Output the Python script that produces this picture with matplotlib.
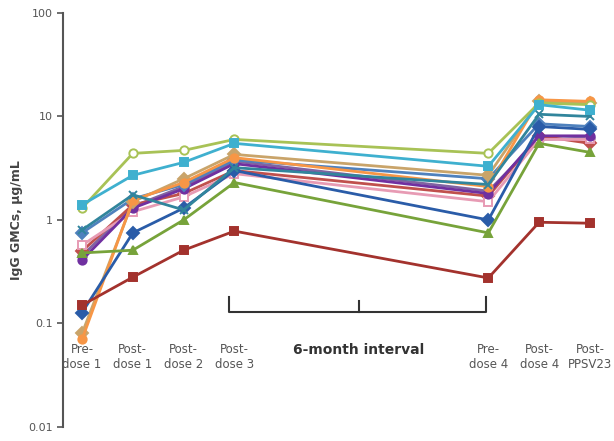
import numpy as np
import matplotlib.pyplot as plt

# time points (x positions leave a gap for the 6-month interval)
timepoints = ['Pre-\ndose 1', 'Post-\ndose 1', 'Post-\ndose 2', 'Post-\ndose 3',
              'Pre-\ndose 4', 'Post-\ndose 4', 'Post-\nPPSV23']
xpos = [0, 1, 2, 3, 8, 9, 10]

# IgG GMCs (ug/mL) per serotype
s_olive = [1.3, 4.4, 4.7, 6.0, 4.4, 13.5, 13.0]
s_cyan = [1.4, 2.7, 3.6, 5.5, 3.3, 13.0, 11.5]
s_teal = [0.8, 1.75, 1.25, 3.2, 2.2, 10.5, 10.0]
s_orange = [0.07, 1.55, 2.3, 4.0, 2.1, 14.5, 14.0]
s_tan = [0.08, 1.5, 2.5, 4.3, 2.7, 14.0, 13.5]
s_navy = [0.127, 0.75, 1.3, 3.0, 1.0, 8.0, 7.5]
s_green = [0.48, 0.51, 1.0, 2.3, 0.75, 5.5, 4.5]
s_red = [0.15, 0.28, 0.51, 0.78, 0.275, 0.95, 0.93]
s_purple = [0.41, 1.3, 2.0, 3.5, 1.8, 6.5, 6.5]
s_pink = [0.57, 1.2, 1.67, 2.8, 1.5, 6.0, 6.0]
s_crimson = [0.5, 1.4, 1.8, 3.0, 1.7, 6.5, 5.5]
s_lavender = [0.45, 1.35, 2.1, 3.7, 1.9, 6.0, 6.2]
s_blue = [0.75, 1.6, 2.2, 3.8, 2.5, 8.5, 8.0]

series = [
    (s_lavender, '#8064a2', 'o', '#8064a2'),
    (s_crimson, '#c0504d', 'D', '#c0504d'),
    (s_pink, '#e79bb4', 's', 'white'),
    (s_purple, '#7030a0', 'o', '#7030a0'),
    (s_blue, '#4f81bd', 'D', '#4f81bd'),
    (s_tan, '#c9a46a', 'D', '#c9a46a'),
    (s_orange, '#f79646', 'o', '#f79646'),
    (s_navy, '#2a5ca8', 'D', '#2a5ca8'),
    (s_teal, '#31859c', 'x', '#31859c'),
    (s_green, '#77a33a', '^', '#77a33a'),
    (s_olive, '#a8c256', 'o', 'white'),
    (s_cyan, '#3fb0cf', 's', '#3fb0cf'),
    (s_red, '#a3322d', 's', '#a3322d'),
]

fig = plt.figure(figsize=(6.14, 4.41), dpi=100)
ax = fig.add_axes([0.103, 0.032, 0.895, 0.9385])

for vals, col, mk, fc in series:
    ax.plot(xpos, vals, color=col, lw=2.0, marker=mk, markersize=6,
            markerfacecolor=fc, markeredgecolor=col, markeredgewidth=1.4)

ax.set_yscale('log')
ax.set_ylim(0.01, 100)
ax.set_xlim(-0.37, 10.45)
ax.set_yticks([0.01, 0.1, 1, 10, 100])
ax.set_yticklabels(['0.01', '0.1', '1', '10', '100'])
ax.minorticks_off()
ax.tick_params(axis='y', colors='#555555', labelsize=8, length=4, width=1.2)
ax.set_xticks([])
for side in ['top', 'right', 'bottom']:
    ax.spines[side].set_visible(False)
ax.spines['left'].set_color('#555555')
ax.spines['left'].set_linewidth(1.5)
ax.set_ylabel('IgG GMCs, µg/mL', fontsize=9, fontweight='bold', color='#444444')

for x, lab in zip(xpos, timepoints):
    ax.text(x, 0.047, lab, ha='center', va='center', fontsize=8.5,
            color='#555555', linespacing=1.2)

# bracket for the 6-month interval
yb, yt = 0.128, 0.18
ax.plot([2.9, 2.9, 7.95, 7.95], [yt, yb, yb, yt], color='#333333', lw=1.5)
ax.plot([5.45, 5.45], [yb, 0.165], color='#333333', lw=1.5)
ax.text(5.45, 0.055, '6-month interval', ha='center', va='center',
        fontsize=10, fontweight='bold', color='#333333')

fig.savefig('out.png', dpi=100)
